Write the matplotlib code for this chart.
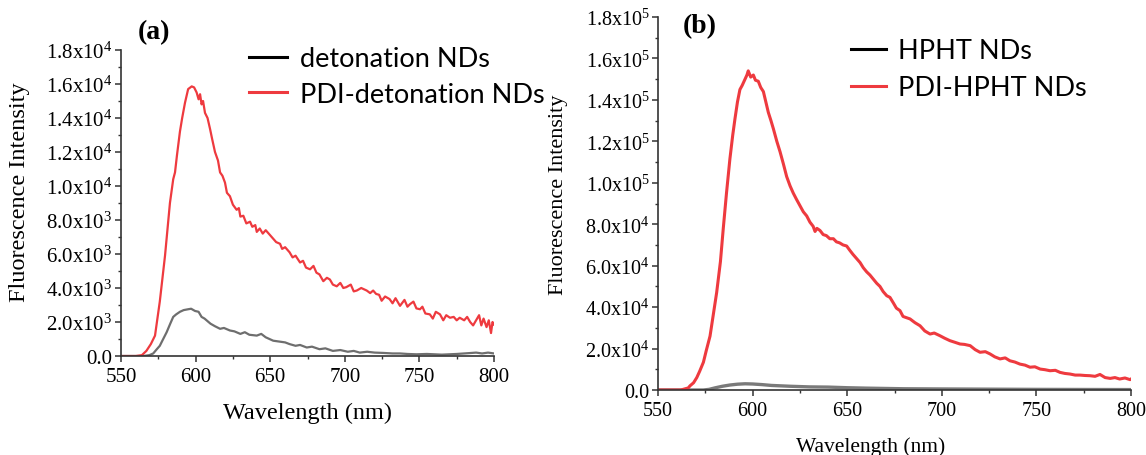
import math

import matplotlib.pyplot as plt
from matplotlib.lines import Line2D
from matplotlib.ticker import FuncFormatter, MultipleLocator

# ---------------------------------------------------------------------------
# Data
# ---------------------------------------------------------------------------
# (a) detonation NDs, intensity in units of 1e3
wl_det_pdi = [550, 560, 564, 567, 570, 572.8, 576, 579.5, 582.8, 585, 586.2, 587.5, 589.5, 591, 592.9,
              595, 597.4, 599, 600.7, 602, 603, 604, 605, 606.3, 608, 609.7, 611, 613, 615, 616.4,
              618, 619.7, 621, 623, 625, 627.5, 629, 630, 632, 634, 636.5, 638, 640, 641, 643,
              645, 647, 650, 652, 654, 656.6, 658, 660, 663, 665, 667, 670, 672, 674, 676.7,
              679, 681, 683, 685.6, 688, 690, 692, 694.6, 697, 699, 701, 704, 706, 708, 711,
              714.7, 717, 719, 721, 723, 724.7, 727, 730, 732, 734, 737, 740, 742, 743.7, 746,
              748, 750.4, 752, 754, 757, 759, 761, 763.8, 766, 768, 770.5, 773, 775, 777, 780,
              782, 784, 786, 788, 790, 791.5, 793, 795, 796.5, 798, 799, 800]
det_pdi_k = [0, 0, 0.05, 0.3, 0.7, 1.2, 3.2, 5.9, 9.0, 10.4, 10.8, 11.8, 13.2, 14.0, 14.9,
             15.7, 15.86, 15.8, 15.5, 15.1, 15.4, 14.8, 15.0, 14.3, 14.0, 13.35, 12.8, 12.0, 11.5, 10.8,
             10.6, 10.2, 9.6, 9.4, 8.9, 8.6, 8.7, 8.2, 8.25, 7.8, 7.9, 7.6, 7.7, 7.3, 7.5,
             7.2, 7.4, 7.1, 6.9, 6.7, 6.6, 6.3, 6.4, 6.1, 5.8, 5.9, 5.5, 5.6, 5.2, 5.1,
             5.3, 4.9, 4.8, 4.4, 4.6, 4.5, 4.2, 4.1, 4.3, 4.0, 4.05, 4.2, 3.8, 3.85, 4.0,
             3.85, 3.7, 3.85, 3.65, 3.6, 3.25, 3.5, 3.35, 3.1, 3.4, 2.95, 3.3, 2.9, 3.05, 3.2,
             2.8, 2.75, 2.9, 2.5, 2.45, 2.2, 2.6, 2.45, 2.1, 2.4, 2.25, 2.3, 2.1, 2.25, 2.1,
             2.3, 2.0, 1.8, 2.1, 2.4, 1.8, 2.2, 1.7, 2.1, 1.35, 2.0, 1.85]

wl_det = [550, 565, 569, 571.6, 574, 576, 578, 580.6, 583, 585, 587, 589.5, 592, 595, 597,
          599.6, 602, 604, 606, 608, 610, 613, 616.4, 619, 623, 626, 630, 633, 636, 641,
          644, 647, 652, 656, 660, 663, 667, 670, 674.5, 678, 683, 687, 692, 697, 702,
          706, 710, 715, 720, 726, 732, 737, 742, 748, 755, 760, 765, 770, 775, 780,
          785, 788, 792, 796, 800]
det_k = [0, 0, 0.05, 0.15, 0.4, 0.6, 0.95, 1.4, 1.9, 2.3, 2.45, 2.6, 2.7, 2.75, 2.78,
         2.65, 2.6, 2.3, 2.2, 2.05, 1.9, 1.75, 1.6, 1.65, 1.5, 1.45, 1.3, 1.4, 1.25, 1.2,
         1.3, 1.1, 0.9, 0.85, 0.8, 0.7, 0.6, 0.65, 0.5, 0.55, 0.4, 0.45, 0.3, 0.35, 0.25,
         0.3, 0.2, 0.25, 0.2, 0.18, 0.15, 0.15, 0.12, 0.1, 0.12, 0.1, 0.08, 0.1, 0.12, 0.15,
         0.18, 0.2, 0.15, 0.2, 0.15]

# (b) HPHT NDs, intensity in units of 1e4
wl_hpht_pdi = [550, 562, 566, 566.9, 568.8, 570.5, 572, 574, 575.5, 577.5, 579, 581, 583, 584.5,
               586.2, 588, 589.5, 590.7, 592, 593.3, 594.5, 596, 597, 597.7, 599, 600.4, 601.5,
               603, 604.3, 605.7, 607, 608.3, 609.7, 611, 612.8, 614.5, 616.3, 618, 619.8, 621.5,
               623.2, 625, 626.8, 628.6, 630.3, 632, 633, 634, 635.6, 637.3, 639, 640.8, 642.7,
               644.3, 646, 647.8, 649.7, 651.3, 653, 654.9, 656.8, 658.5, 660.3, 662, 663.8,
               665.6, 667.3, 669, 670.9, 672.6, 674.4, 676, 677.9, 679.5, 681, 683.2, 685.8,
               688.5, 691, 693.8, 696, 699, 701.5, 704.3, 707, 709.6, 712, 715, 717.6, 720.2,
               723, 725.5, 728, 730.8, 733.5, 736, 738.6, 741.3, 744, 746.6, 749.2, 752, 754.5,
               757.2, 760, 762.5, 765, 767.8, 770.5, 773, 775.7, 778.3, 781, 783.6, 786.3, 789,
               791.5, 794, 796.8, 799.5, 800]
hpht_pdi_e4 = [0, 0, 0.1, 0.2, 0.35, 0.6, 0.9, 1.34, 1.9, 2.6, 3.5, 4.7, 6.2, 7.8,
               9.5, 11.15, 12.3, 13.1, 13.9, 14.5, 14.7, 15.0, 15.2, 15.4, 15.1, 15.2, 14.95,
               14.9, 14.6, 14.4, 13.9, 13.4, 13.0, 12.6, 12.0, 11.5, 10.9, 10.3, 9.85, 9.5,
               9.2, 8.9, 8.6, 8.4, 8.1, 7.9, 7.65, 7.8, 7.7, 7.5, 7.45, 7.3, 7.3,
               7.15, 7.1, 7.0, 6.95, 6.75, 6.55, 6.35, 6.15, 5.9, 5.7, 5.55, 5.35,
               5.15, 5.0, 4.75, 4.55, 4.47, 4.2, 3.95, 3.83, 3.55, 3.5, 3.43, 3.25,
               3.1, 2.85, 2.7, 2.75, 2.62, 2.5, 2.38, 2.3, 2.22, 2.2, 2.14, 1.95, 1.82,
               1.85, 1.74, 1.6, 1.5, 1.55, 1.41, 1.35, 1.25, 1.2, 1.1, 1.12, 1.01, 0.98,
               0.93, 0.95, 0.85, 0.8, 0.77, 0.72, 0.72, 0.7, 0.69, 0.66, 0.75, 0.6, 0.56,
               0.6, 0.53, 0.58, 0.5, 0.53]

wl_hpht = [550, 574, 577, 580, 584, 588, 592, 596, 600, 605, 610, 620, 630, 640, 650, 660,
           680, 700, 750, 800]
hpht_e4 = [0, 0, 0.03, 0.1, 0.18, 0.24, 0.28, 0.3, 0.29, 0.26, 0.22, 0.18, 0.15, 0.14, 0.11,
           0.09, 0.06, 0.05, 0.03, 0.02]

det_pdi = [v * 1e3 for v in det_pdi_k]
det = [v * 1e3 for v in det_k]
hpht_pdi = [v * 1e4 for v in hpht_pdi_e4]
hpht = [v * 1e4 for v in hpht_e4]

RED = "#EE3A3F"
GRAY = "#6E6E6E"
SERIF = "Liberation Serif"
SANS = "Lato"

plt.rcParams["font.family"] = SERIF
plt.rcParams["mathtext.fontset"] = "custom"
plt.rcParams["mathtext.rm"] = SERIF
plt.rcParams["mathtext.it"] = SERIF + ":italic"


def origin_fmt(v, pos):
    # Origin-style labels: 0.0, 2.0x10^3 ... 1.8x10^4
    if v == 0:
        return "0.0"
    exp = int(math.floor(math.log10(abs(v)) + 1e-9))
    return f"{v / 10 ** exp:.1f}x10$^{{{exp}}}$"


def style_axes(ax, ystep, fs):
    for side in ("top", "right"):
        ax.spines[side].set_visible(False)
    for side in ("left", "bottom"):
        ax.spines[side].set_linewidth(1.2)
        ax.spines[side].set_color("#333333")
    ax.set_xlim(550, 800)
    ax.set_ylim(0, 9 * ystep)
    ax.xaxis.set_major_locator(MultipleLocator(50))
    ax.xaxis.set_minor_locator(MultipleLocator(25))
    ax.yaxis.set_major_locator(MultipleLocator(ystep))
    ax.yaxis.set_minor_locator(MultipleLocator(ystep / 2))
    ax.yaxis.set_major_formatter(FuncFormatter(origin_fmt))
    ax.tick_params(which="major", direction="out", length=4, width=1.1, color="#333333",
                   labelsize=fs, pad=2)
    ax.tick_params(which="minor", direction="out", length=2.5, width=1.0, color="#333333")
    ax.tick_params(axis="x", which="major", pad=4)


fig = plt.figure(figsize=(11.46, 4.56), dpi=100)
W, H = 1146, 456

# ---------------------------------------------------------------------------
# (a) detonation NDs
# ---------------------------------------------------------------------------
ax1 = fig.add_axes([121 / W, 1 - 357 / H, 373 / W, 306 / H])
ax1.plot(wl_det, det, color=GRAY, lw=1.6)
ax1.plot(wl_det_pdi, det_pdi, color=RED, lw=1.6)
style_axes(ax1, 2e3, 15)
ax1.set_ylabel("Fluorescence Intensity", fontsize=17.5)
ax1.yaxis.set_label_coords(-0.245, 0.54)
ax1.set_xlabel("Wavelength (nm)", fontsize=17.5)
ax1.xaxis.set_label_coords(0.5, -0.15)
fig.text(138 / W, 1 - 33 / H, "(a)", fontsize=20, fontweight="bold", va="center", ha="left")

h1 = [Line2D([], [], color="black", lw=2.2), Line2D([], [], color=RED, lw=2.2)]
fig.legend(h1, ["detonation NDs", "PDI-detonation NDs"], loc="upper left",
           bbox_to_anchor=(249 / W, 1 - 47 / H), frameon=False, borderpad=0, borderaxespad=0,
           handlelength=1.4, handletextpad=0.5, labelspacing=0.4,
           prop={"family": SANS, "size": 19.5})

# ---------------------------------------------------------------------------
# (b) HPHT NDs
# ---------------------------------------------------------------------------
ax2 = fig.add_axes([658 / W, 1 - 391 / H, 473 / W, 373 / H])
ax2.plot(wl_hpht, hpht, color="#7A7A7A", lw=2.4)
ax2.plot(wl_hpht_pdi, hpht_pdi, color=RED, lw=2.2)
style_axes(ax2, 2e4, 14.5)
ax2.set_ylabel("Fluorescence Intensity", fontsize=16)
ax2.yaxis.set_label_coords(-0.19, 0.525)
ax2.set_xlabel("Wavelength (nm)", fontsize=15.5)
ax2.xaxis.set_label_coords(0.449, -0.125)
fig.text(683 / W, 1 - 27 / H, "(b)", fontsize=20, fontweight="bold", va="center", ha="left")

h2 = [Line2D([], [], color="black", lw=2.2), Line2D([], [], color=RED, lw=2.2)]
fig.legend(h2, ["HPHT NDs", "PDI-HPHT NDs"], loc="upper left",
           bbox_to_anchor=(851 / W, 1 - 39 / H), frameon=False, borderpad=0, borderaxespad=0,
           handlelength=1.3, handletextpad=0.45, labelspacing=0.45,
           prop={"family": SANS, "size": 19.5})

fig.savefig("out.png", dpi=100, facecolor="white")
